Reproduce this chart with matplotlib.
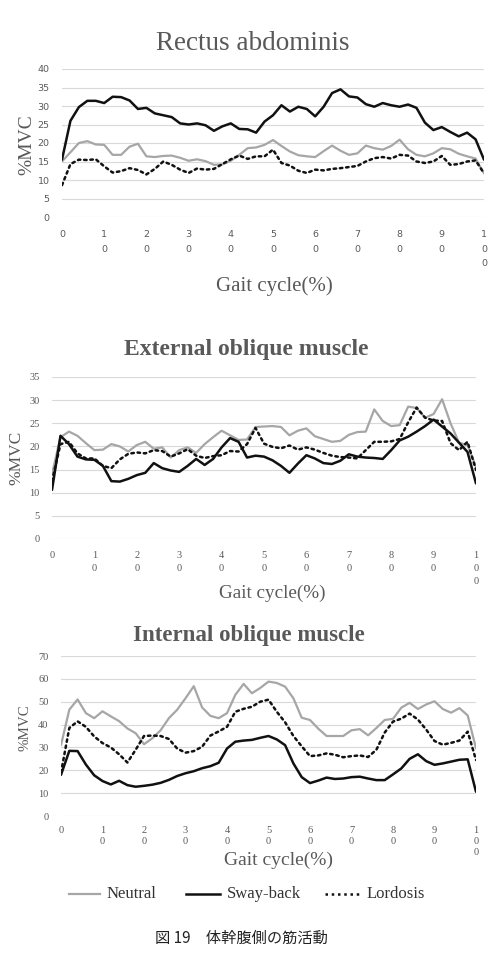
import matplotlib
matplotlib.use("Agg")
import matplotlib.pyplot as plt
from matplotlib.lines import Line2D

W, H = 492, 969

# ---------------- data ----------------
gait_pct = list(range(0, 101, 2))

rectus_neutral = [15, 17.5, 20, 20.5, 19.6, 19.5, 16.8, 16.8, 19, 19.8, 16.4, 16.2, 16.5, 16.6, 16, 15.2,
                  15.6, 15.1, 14.1, 14.2, 15.2, 16.8, 18.6, 18.8, 19.5, 20.8, 19.2, 17.7, 16.7, 16.4, 16.2,
                  17.8, 19.3, 17.9, 16.8, 17.2, 19.3, 18.6, 18.2, 19.2, 20.9, 18.3, 16.8, 16.4, 17.2, 18.6,
                  18.3, 17.1, 16.4, 15.8, 11.8]
rectus_swayback = [15.5, 26, 29.7, 31.4, 31.4, 30.8, 32.5, 32.4, 31.5, 29.2, 29.5, 28, 27.5, 27, 25.3, 25,
                   25.3, 24.8, 23.3, 24.5, 25.3, 23.8, 23.7, 22.8, 25.8, 27.5, 30.2, 28.5, 29.8, 29.2, 27.2,
                   29.8, 33.5, 34.5, 32.6, 32.3, 30.5, 29.8, 30.8, 30.2, 29.8, 30.4, 29.5, 25.5, 23.5, 24.3,
                   23, 21.8, 22.8, 21, 15.5]
rectus_lordosis = [8.6, 14.3, 15.5, 15.4, 15.6, 13.7, 12, 12.4, 13.2, 12.7, 11.5, 13, 15, 14.1, 12.8, 11.9,
                   13.1, 12.8, 13, 14.3, 15.6, 16.6, 15.7, 16.4, 16.4, 18.2, 14.6, 13.9, 12.5, 11.9, 12.8,
                   12.6, 13, 13.2, 13.5, 13.8, 15, 15.9, 16.2, 15.8, 16.8, 16.6, 15, 14.6, 15, 16.5, 14.1,
                   14.3, 15, 15.3, 11.8]

external_neutral = [14, 22, 23.2, 22.3, 20.7, 19.2, 19.3, 20.5, 20, 18.9, 20.3, 21, 19.5, 19.8, 17.6, 19.2,
                    19.8, 18.6, 20.5, 22, 23.4, 22.4, 21.4, 21.5, 24.2, 24.3, 24.4, 24.2, 22.4, 23.4, 23.9,
                    22.2, 21.6, 21, 21.2, 22.5, 23.1, 23.2, 28, 25.5, 24.4, 24.6, 28.6, 28.3, 26.2, 27, 30.2,
                    25, 20.8, 20.3, 15.6]
external_swayback = [10.6, 22.3, 20.5, 17.8, 17.2, 17.1, 15.8, 12.5, 12.4, 13, 13.8, 14.3, 16.4, 15.3, 14.8,
                     14.5, 15.8, 17.3, 16, 17.3, 19.8, 21.8, 21, 17.6, 18, 17.8, 17, 15.8, 14.3, 16.3, 18.1,
                     17.4, 16.4, 16.2, 16.9, 18.3, 17.8, 17.6, 17.5, 17.3, 19.2, 21.3, 22.1, 23.2, 24.4, 25.8,
                     24.3, 22.8, 20.8, 18.8, 12]
external_lordosis = [12.5, 20.5, 21, 18.5, 17.4, 17.4, 15.8, 15.3, 17.2, 18.4, 18.7, 18.5, 19.2, 19, 17.8,
                     18.5, 19.4, 18, 17.5, 17.9, 18.1, 19, 18.9, 20.5, 24, 20.6, 19.9, 19.6, 20.2, 19.3, 19.8,
                     19.3, 18.6, 18, 17.7, 17.6, 17.4, 19.2, 21, 21, 21.1, 21.6, 25.2, 28.4, 26.2, 25.6, 25.5,
                     20.7, 19.2, 21, 14.9]

internal_neutral = [31, 46.5, 51, 45, 42.8, 45.8, 43.6, 41.5, 38.3, 36.2, 31.4, 34, 37.5, 42.8, 46.5, 51.5,
                    56.8, 47.5, 43.8, 42.8, 45, 53, 57.8, 53.7, 56, 58.8, 58.2, 56.6, 51.5, 43, 42, 38.2, 35,
                    35, 35, 37.5, 38, 35.3, 38.5, 42, 42.5, 47.4, 49.5, 46.8, 48.8, 50.2, 46.8, 45.2, 47.2,
                    44, 29.6]
internal_swayback = [18, 28.5, 28.4, 22.5, 17.8, 15.3, 13.8, 15.4, 13.5, 12.8, 13.2, 13.7, 14.5, 15.8, 17.5,
                     18.7, 19.6, 20.9, 21.8, 23.3, 29.5, 32.5, 33, 33.3, 34.2, 35, 33.5, 31, 23, 17, 14.4,
                     15.5, 16.8, 16.2, 16.4, 17, 17.2, 16.4, 15.7, 15.7, 18.2, 20.8, 25, 27, 24, 22.4, 23,
                     23.8, 24.6, 24.8, 10.6]
internal_lordosis = [19, 38.5, 41.4, 39, 34.8, 31.9, 30, 27, 23.4, 29, 35, 35.2, 35, 33.7, 29.5, 27.7, 28.4,
                     30.3, 35.2, 37, 39, 45.6, 46.9, 47.8, 50, 50.9, 45.6, 41, 35, 30.5, 26.2, 26.5, 27.4,
                     26.8, 25.7, 26.2, 26.5, 25.8, 29, 36.5, 41.3, 42.6, 44.8, 42.2, 37.8, 32.8, 31.2, 32, 33,
                     36.9, 24.5]

panel_titles = ["Rectus abdominis", "External oblique muscle", "Internal oblique muscle"]
series_names = ["Neutral", "Sway-back", "Lordosis"]
y_maxes = [40, 35, 70]
y_steps = [5, 5, 10]
x_ticks = list(range(0, 101, 10))
x_tick_labels = ["0", "1\n0", "2\n0", "3\n0", "4\n0", "5\n0", "6\n0", "7\n0", "8\n0", "9\n0", "1\n0\n0"]
y_label = "%MVC"
x_label = "Gait cycle(%)"
caption = "図 19\u3000体幹腹側の筋活動"

# ---------------- style ----------------
GRAY_TXT = "#595959"
GRID = "#d9d9d9"
styles = [dict(color="#a6a6a6", lw=1.6, ls="-"),
          dict(color="#111111", lw=1.8, ls="-"),
          dict(color="#111111", lw=1.8, ls=(0, (1, 1.5)))]
SERIF = ["Liberation Serif", "DejaVu Serif"]

fig = plt.figure(figsize=(W / 100, H / 100), dpi=100)


def fx(px):
    return px / W


def fy(py):
    return 1 - py / H


# axes boxes in pixels: left, right, top(ymax), bottom(0)
boxes = [(62, 484, 69, 217), (52, 476, 377, 539), (61, 476, 656, 816)]
title_pos = [(253, 43, 19.5, "normal"), (246, 349, 17, "bold"), (249, 636, 16.5, "bold")]
ylab_pos = [(27, 145), (16, 458), (25, 728)]
ylab_size = [14, 12.5, 10.8]
xlab_pos = [(274, 286), (272, 593), (278, 860)]
xlab_size = [15, 13.8, 14]
tick_fonts = [dict(family=["DejaVu Sans"], size=6.8), dict(family=SERIF, size=7.5), dict(family=SERIF, size=7.5)]
xtick_linespacing = [1.78, 1.55, 1.3]
pads = [(9, 9.6), (9, 9), (9, 7)]

data = [
    (rectus_neutral, rectus_swayback, rectus_lordosis),
    (external_neutral, external_swayback, external_lordosis),
    (internal_neutral, internal_swayback, internal_lordosis),
]

for i, (series, box) in enumerate(zip(data, boxes)):
    l, r, t, b = box
    ax = fig.add_axes([fx(l), fy(b), (r - l) / W, (b - t) / H])
    for vals, st in zip(series, styles):
        ax.plot(gait_pct, vals, color=st["color"], lw=st["lw"], ls=st["ls"],
                solid_capstyle="round", dash_capstyle="round")
    ax.set_xlim(0, 100)
    ax.set_ylim(0, y_maxes[i])
    ax.set_yticks(range(0, y_maxes[i] + 1, y_steps[i]))
    ax.set_xticks(x_ticks)
    ax.set_xticklabels(x_tick_labels, linespacing=xtick_linespacing[i])
    for s in ax.spines.values():
        s.set_visible(False)
    ax.grid(axis="y", color=GRID, lw=0.8)
    ax.set_axisbelow(True)
    ax.tick_params(axis="both", length=0, colors=GRAY_TXT)
    ax.tick_params(axis="y", pad=pads[i][0])
    ax.tick_params(axis="x", pad=pads[i][1])
    for lab in ax.get_xticklabels() + ax.get_yticklabels():
        lab.set_fontfamily(tick_fonts[i]["family"])
        lab.set_fontsize(tick_fonts[i]["size"])
        lab.set_color(GRAY_TXT)
    ax.set_facecolor("none")

    tx, ty, tsz, tw = title_pos[i]
    fig.text(fx(tx), fy(ty), panel_titles[i], ha="center", va="center", family=SERIF,
             fontsize=tsz, color=GRAY_TXT, weight=tw)
    yx, yy = ylab_pos[i]
    fig.text(fx(yx), fy(yy), y_label, ha="center", va="center", rotation=90, family=SERIF,
             fontsize=ylab_size[i], color=GRAY_TXT)
    xx, xy = xlab_pos[i]
    fig.text(fx(xx), fy(xy), x_label, ha="center", va="center", family=SERIF,
             fontsize=xlab_size[i], color=GRAY_TXT)

# legend
leg_y = 894
leg_items = [(69, 100, 107), (186, 220, 227), (325, 360, 367)]
for name, st, (x0, x1, xt) in zip(series_names, styles, leg_items):
    fig.add_artist(Line2D([fx(x0), fx(x1)], [fy(leg_y), fy(leg_y)], transform=fig.transFigure,
                          color=st["color"], lw=st["lw"], ls=st["ls"]))
    fig.text(fx(xt), fy(leg_y), name, ha="left", va="center", family=SERIF, fontsize=12,
             color="#333333")

fig.text(fx(241), fy(938), caption, ha="center", va="center",
         family=["Noto Sans CJK JP", "DejaVu Sans"], fontsize=11, color="#222222")

fig.savefig("out.png", dpi=100, facecolor="white")
